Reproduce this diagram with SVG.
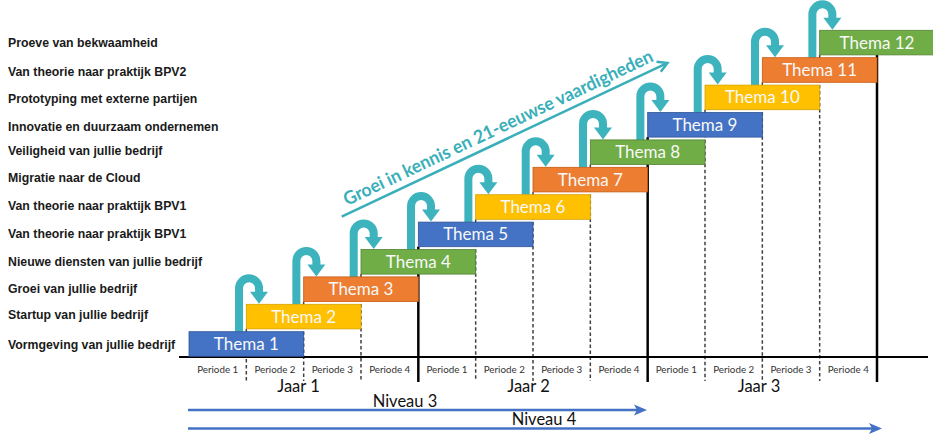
<svg xmlns="http://www.w3.org/2000/svg" xmlns:xlink="http://www.w3.org/1999/xlink" width="933" height="442" viewBox="0 0 933 442">
<style>
.lbl{font-family:"Liberation Sans",Arial,sans-serif;font-weight:bold;font-size:12.3px;fill:#1a1a1a}
.box{stroke-width:0.8}
.blue{fill:#4472C4;stroke:#2F5597}
.yellow{fill:#FFC000;stroke:#D6A200}
.orange{fill:#ED7D31;stroke:#C55A11}
.green{fill:#70AD47;stroke:#548235}
.tt{font-family:Lato,"Open Sans",sans-serif;font-size:17px;fill:#F8F8F8;text-anchor:middle}
.per{font-family:Lato,"Open Sans",sans-serif;font-size:9.8px;fill:#333;text-anchor:middle}
.big{font-family:Lato,"Open Sans",sans-serif;font-size:16.5px;fill:#111;text-anchor:middle}
.dash{stroke:#404040;stroke-width:1.5;stroke-dasharray:3.5 2.5;fill:none}
.solid{stroke:#000;stroke-width:2.5;fill:none}
.curl path{fill:none;stroke:#3DB3BE;stroke-width:8}
.curl polygon{fill:#3DB3BE}
.niv{stroke:#4472C4;stroke-width:2.5;fill:none}
</style>
<defs>
<g id="curl" class="curl">
<path d="M -7.3 27.4 V -16 A 10 10 0 0 1 12.7 -16 V -11.5"/>
<polygon points="3.7,-12.5 21.7,-12.5 12.7,-0.5"/>
</g>
</defs>
<rect width="933" height="442" fill="#ffffff"/>
<g id="labels">
<text class="lbl" x="8" y="46.5">Proeve van bekwaamheid</text>
<text class="lbl" x="8" y="75.5">Van theorie naar praktijk BPV2</text>
<text class="lbl" x="8" y="102.5">Prototyping met externe partijen</text>
<text class="lbl" x="8" y="130.5">Innovatie en duurzaam ondernemen</text>
<text class="lbl" x="8" y="154.5">Veiligheid van jullie bedrijf</text>
<text class="lbl" x="8" y="181.5">Migratie naar de Cloud</text>
<text class="lbl" x="8" y="209.5">Van theorie naar praktijk BPV1</text>
<text class="lbl" x="8" y="238">Van theorie naar praktijk BPV1</text>
<text class="lbl" x="8" y="265.5">Nieuwe diensten van jullie bedrijf</text>
<text class="lbl" x="8" y="292.5">Groei van jullie bedrijf</text>
<text class="lbl" x="8" y="319">Startup van jullie bedrijf</text>
<text class="lbl" x="8" y="349">Vormgeving van jullie bedrijf</text>
</g>
<g id="grid">
<line class="dash" x1="246.33" y1="328.9" x2="246.33" y2="381"/>
<line class="dash" x1="303.67" y1="301.5" x2="303.67" y2="381"/>
<line class="dash" x1="361" y1="274.1" x2="361" y2="381"/>
<line class="solid" x1="418.33" y1="246.7" x2="418.33" y2="382"/>
<line class="dash" x1="475.67" y1="219.3" x2="475.67" y2="381"/>
<line class="dash" x1="533" y1="191.9" x2="533" y2="381"/>
<line class="dash" x1="590.33" y1="164.5" x2="590.33" y2="381"/>
<line class="solid" x1="647.67" y1="137.1" x2="647.67" y2="382"/>
<line class="dash" x1="705" y1="109.7" x2="705" y2="381"/>
<line class="dash" x1="762.33" y1="82.3" x2="762.33" y2="381"/>
<line class="dash" x1="819.67" y1="54.9" x2="819.67" y2="381"/>
<line class="solid" x1="877" y1="54.9" x2="877" y2="382"/>
<line x1="179" y1="357" x2="928" y2="357" stroke="#000" stroke-width="2"/>
</g>
<g id="connectors">
<use xlink:href="#curl" x="246.33" y="304.3"/>
<use xlink:href="#curl" x="303.67" y="276.9"/>
<use xlink:href="#curl" x="361" y="249.5"/>
<use xlink:href="#curl" x="418.33" y="222.1"/>
<use xlink:href="#curl" x="475.67" y="194.7"/>
<use xlink:href="#curl" x="533" y="167.3"/>
<use xlink:href="#curl" x="590.33" y="139.9"/>
<use xlink:href="#curl" x="647.67" y="112.5"/>
<use xlink:href="#curl" x="705" y="85.1"/>
<use xlink:href="#curl" x="762.33" y="57.7"/>
<use xlink:href="#curl" x="819.67" y="30.3"/>
</g>
<g id="thema1"><rect class="box blue" x="189" y="331.7" width="114.67" height="24.6"/><text class="tt" x="246.33" y="350">Thema 1</text></g>
<g id="thema2"><rect class="box yellow" x="246.33" y="304.3" width="114.67" height="24.6"/><text class="tt" x="303.67" y="322.6">Thema 2</text></g>
<g id="thema3"><rect class="box orange" x="303.67" y="276.9" width="114.67" height="24.6"/><text class="tt" x="361" y="295.2">Thema 3</text></g>
<g id="thema4"><rect class="box green" x="361" y="249.5" width="114.67" height="24.6"/><text class="tt" x="418.33" y="267.8">Thema 4</text></g>
<g id="thema5"><rect class="box blue" x="418.33" y="222.1" width="114.67" height="24.6"/><text class="tt" x="475.67" y="240.4">Thema 5</text></g>
<g id="thema6"><rect class="box yellow" x="475.67" y="194.7" width="114.67" height="24.6"/><text class="tt" x="533" y="213">Thema 6</text></g>
<g id="thema7"><rect class="box orange" x="533" y="167.3" width="114.67" height="24.6"/><text class="tt" x="590.33" y="185.6">Thema 7</text></g>
<g id="thema8"><rect class="box green" x="590.33" y="139.9" width="114.67" height="24.6"/><text class="tt" x="647.67" y="158.2">Thema 8</text></g>
<g id="thema9"><rect class="box blue" x="647.67" y="112.5" width="114.67" height="24.6"/><text class="tt" x="705" y="130.8">Thema 9</text></g>
<g id="thema10"><rect class="box yellow" x="705" y="85.1" width="114.67" height="24.6"/><text class="tt" x="762.33" y="103.4">Thema 10</text></g>
<g id="thema11"><rect class="box orange" x="762.33" y="57.7" width="114.67" height="24.6"/><text class="tt" x="819.67" y="76">Thema 11</text></g>
<g id="thema12"><rect class="box green" x="819.67" y="30.3" width="114.67" height="24.6"/><text class="tt" x="877" y="48.6">Thema 12</text></g>
<g id="periods">
<text class="per" x="217.7" y="372.5">Periode 1</text>
<text class="per" x="275" y="372.5">Periode 2</text>
<text class="per" x="332.3" y="372.5">Periode 3</text>
<text class="per" x="389.7" y="372.5">Periode 4</text>
<text class="per" x="447" y="372.5">Periode 1</text>
<text class="per" x="504.3" y="372.5">Periode 2</text>
<text class="per" x="561.7" y="372.5">Periode 3</text>
<text class="per" x="619" y="372.5">Periode 4</text>
<text class="per" x="676.3" y="372.5">Periode 1</text>
<text class="per" x="733.7" y="372.5">Periode 2</text>
<text class="per" x="791" y="372.5">Periode 3</text>
<text class="per" x="848.3" y="372.5">Periode 4</text>
<text class="big" x="298.5" y="392">Jaar 1</text>
<text class="big" x="528.5" y="392">Jaar 2</text>
<text class="big" x="759" y="392">Jaar 3</text>
</g>
<g id="niveaus">
<line class="niv" x1="188" y1="410" x2="638" y2="410"/>
<path d="M 634 404.5 L 647 410 L 634 415.5 L 637 410 Z" fill="#4472C4"/>
<text class="big" x="405" y="406.5">Niveau 3</text>
<line class="niv" x1="188" y1="428.5" x2="873" y2="428.5"/>
<path d="M 869 423 L 882 428.5 L 869 434 L 872 428.5 Z" fill="#4472C4"/>
<text class="big" x="544" y="425">Niveau 4</text>
</g>
<g id="growth">
<line x1="341.7" y1="216.7" x2="666" y2="63.6" stroke="#3AAFBA" stroke-width="2.5"/>
<polyline points="656.5,61.8 667.5,63 660.8,71.8" fill="none" stroke="#3AAFBA" stroke-width="2.5" stroke-linejoin="miter"/>
<text x="347" y="206" transform="rotate(-25.27 347 206)" font-family="Lato,'Open Sans',sans-serif" font-weight="bold" font-size="18.5" fill="#3AAFBA" textLength="340" lengthAdjust="spacingAndGlyphs">Groei in kennis en 21-eeuwse vaardigheden</text>
</g>
</svg>
